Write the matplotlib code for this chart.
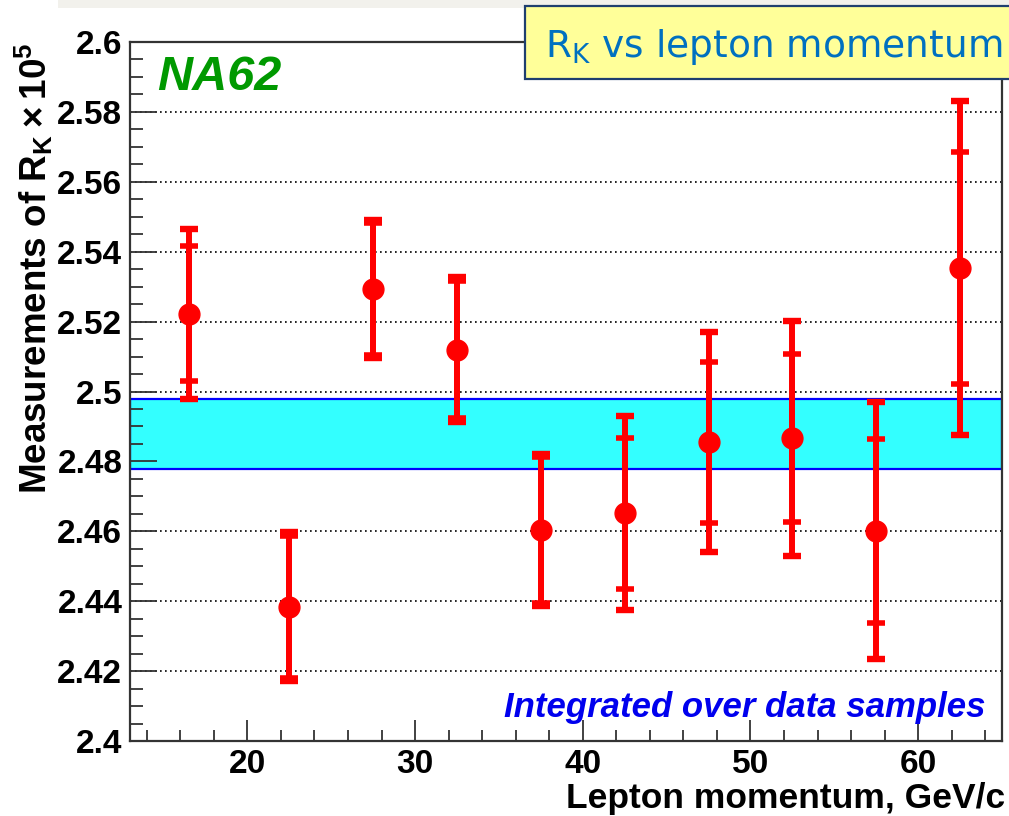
import numpy as np
import matplotlib.pyplot as plt
from matplotlib.patches import Rectangle

plt.rcParams['font.family'] = ['Liberation Sans', 'DejaVu Sans']
plt.rcParams['mathtext.fontset'] = 'custom'
plt.rcParams['mathtext.rm'] = 'Liberation Sans:bold'
plt.rcParams['mathtext.sf'] = 'DejaVu Sans'
plt.rcParams['mathtext.default'] = 'rm'

# bin centres (GeV/c) and R_K x 10^5 measurements
momentum = [16.5, 22.5, 27.5, 32.5, 37.5, 42.5, 47.5, 52.5, 57.5, 62.5]
rk = [2.5222, 2.4384, 2.5293, 2.5120, 2.4604, 2.4652, 2.4855, 2.4866, 2.4602, 2.5353]
err_stat = [0.0193, 0.0203, 0.0188, 0.0197, 0.0208, 0.0216, 0.0230, 0.0240, 0.0263, 0.0331]
err_tot = [0.0244, 0.0213, 0.0198, 0.0207, 0.0218, 0.0278, 0.0314, 0.0336, 0.0368, 0.0477]

# combined result band
band_lo, band_hi = 2.4777, 2.4978

yticks = [2.40, 2.42, 2.44, 2.46, 2.48, 2.50, 2.52, 2.54, 2.56, 2.58, 2.60]
ylabels = ['2.4', '2.42', '2.44', '2.46', '2.48', '2.5', '2.52', '2.54', '2.56', '2.58', '2.6']
xticks = [20, 30, 40, 50, 60]

W, H = 1009, 816
fig = plt.figure(figsize=(W / 100, H / 100), dpi=100)
fig.subplots_adjust(left=130 / W, right=1002 / W, bottom=1 - 741 / H, top=1 - 42 / H)
ax = fig.add_subplot(111)

ax.set_xlim(13, 65)
ax.set_ylim(2.4, 2.6)

# dotted grid below the band
ax.hlines(yticks[1:-1], 13, 65, colors='black', linestyles=(0, (1, 2)), linewidth=1.2, zorder=0.8)
ax.axhspan(band_lo, band_hi, facecolor='#33ffff', edgecolor='#0000ff', linewidth=1.6, zorder=1)

ax.errorbar(momentum, rk, yerr=err_tot, fmt='none', ecolor='#ff0000', elinewidth=4.3,
            capsize=6.2, capthick=4.6, zorder=3)
ax.errorbar(momentum, rk, yerr=err_stat, fmt='none', ecolor='#ff0000', elinewidth=4.3,
            capsize=6.2, capthick=4.0, zorder=3)
ax.plot(momentum, rk, 'o', color='#ff0000', markersize=15, zorder=4)

ax.set_yticks(yticks)
ax.set_yticklabels(ylabels)
ax.set_yticks(np.arange(2.4, 2.6001, 0.005), minor=True)
ax.set_xticks(xticks)
ax.set_xticks(np.arange(14, 65, 2), minor=True)

for lab in ax.get_xticklabels() + ax.get_yticklabels():
    lab.set_fontweight('bold')
ax.tick_params(axis='both', which='both', direction='in', colors='#333333', width=1.3,
               labelcolor='black', labelsize=24)
ax.tick_params(axis='y', which='major', length=19.5, pad=5.5)
ax.tick_params(axis='y', which='minor', length=9.5)
ax.tick_params(axis='x', which='major', length=15, pad=6)
ax.tick_params(axis='x', which='minor', length=7.7)
for s in ax.spines.values():
    s.set_linewidth(1.6)
    s.set_color('#333333')

# labels
fig.text(1005 / W, 1 - 808 / H, 'Lepton momentum, GeV/c', ha='right', va='baseline',
         fontsize=25.5, fontweight='bold')
fig.text(47 / W, 1 - 42 / H, r'Measurements of R$_{\mathrm{K}}\times$10$^{\mathrm{5}}$',
         rotation=90, rotation_mode='anchor', ha='right', va='baseline',
         fontsize=26.5, fontweight='bold')

ax.text(157 / W, 1 - 90 / H, 'NA62', transform=fig.transFigure, color='#009900',
        fontsize=35, fontweight='bold', fontstyle='italic', va='baseline')
ax.text(985 / W, 1 - 717 / H, 'Integrated over data samples', transform=fig.transFigure,
        color='#0000ee', fontsize=25, fontweight='bold', fontstyle='italic',
        ha='right', va='baseline')

# slide decorations: grey strip and yellow title box
fig.add_artist(Rectangle((58 / W, 1 - 8 / H), 1 - 58 / W, 8 / H, transform=fig.transFigure,
                         facecolor='#f2f1ec', edgecolor='none'))
fig.add_artist(Rectangle((525 / W, 1 - 79 / H), 1 - 525 / W + 0.01, 73 / H,
                         transform=fig.transFigure, facecolor='#ffff99',
                         edgecolor='#1f3f6f', linewidth=1.6))
fig.text(545 / W, 1 - 57 / H, r'$\mathsf{R_K}$ vs lepton momentum', family='DejaVu Sans',
         color='#0070c0', fontsize=27, ha='left', va='baseline')

fig.savefig('out.png', dpi=100)
